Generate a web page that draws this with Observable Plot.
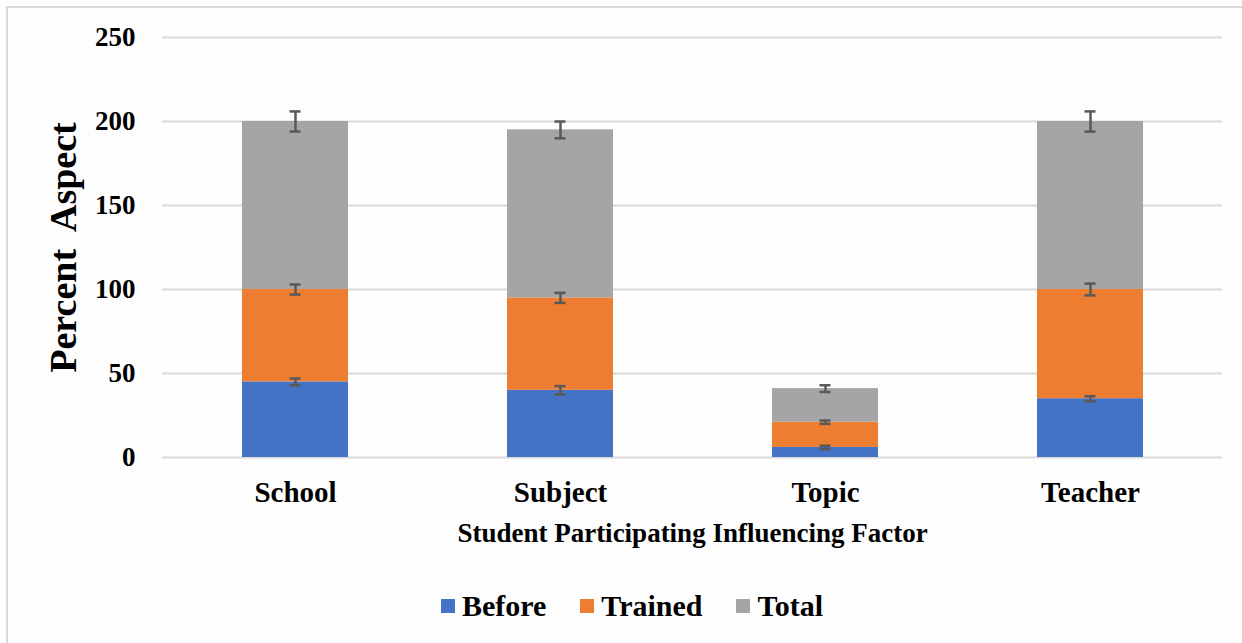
<!DOCTYPE html>
<html>
<head>
<meta charset="utf-8">
<script src="https://cdn.jsdelivr.net/npm/d3@7"></script>
<script src="https://cdn.jsdelivr.net/npm/@observablehq/plot@0.6"></script>
<style>
  html, body { margin: 0; padding: 0; background: #ffffff; }
  #wrap { position: relative; width: 1242px; height: 643px; overflow: hidden; background: #fdfdfd; font-family: "Liberation Serif", "Times New Roman", serif; }
  #frame { position: absolute; left: 6px; top: 6px; width: 1300px; height: 700px; border-left: 2px solid #d9d9d9; border-top: 2px solid #d9d9d9; }
  #chart { position: absolute; left: 0; top: 0; }
  #chart svg { font-family: "Liberation Serif", "Times New Roman", serif; font-weight: bold; color: #000; background: transparent; }
  g[aria-label="y-axis label"] text { font-size: 38px; white-space: pre; }
  g[aria-label="x-axis label"] text { font-size: 27px; }
  g[aria-label="x-axis tick label"] text { font-size: 29px; }
  #legend { position: absolute; top: 589px; left: 0; width: 1242px; display: flex; justify-content: center; align-items: center; gap: 34px; font-size: 30px; font-weight: bold; color: #000; padding-left: 22px; box-sizing: border-box; }
  .item { display: flex; align-items: center; gap: 7px; }
  .sw { width: 14px; height: 14px; display: inline-block; }
</style>
</head>
<body>
<div id="wrap">
  <div id="frame"></div>
  <div id="chart"></div>
  <div id="legend"></div>
</div>
<script>
// ---- data ----
const categories = ["School", "Subject", "Topic", "Teacher"];
const seriesNames = ["Before", "Trained", "Total"];
const before  = [45, 40, 6, 35];
const trained = [55, 55, 15, 65];
const total   = [100, 100, 20, 100];
const errBefore  = [2, 2.5, 1, 1.5];
const errTrained = [3, 3, 1, 3.5];
const errTotal   = [6, 5, 2, 6];
const yTicks = [0, 50, 100, 150, 200, 250];
const colors = ["#4472c4", "#ed7d31", "#a5a5a5"];

const seriesValues = [before, trained, total];
const seriesErrors = [errBefore, errTrained, errTotal];

const rows = [];
const errs = [];
categories.forEach((c, i) => {
  let cum = 0;
  seriesNames.forEach((s, k) => {
    const v = seriesValues[k][i];
    rows.push({cat: c, series: s, value: v});
    cum += v;
    errs.push({cat: c, series: s, top: cum, lo: cum - seriesErrors[k][i], hi: cum + seriesErrors[k][i]});
  });
});

const capInset = 47.5;

const chart = Plot.plot({
  width: 1242,
  height: 560,
  marginTop: 37,
  marginBottom: 103,
  marginLeft: 162,
  marginRight: 20,
  style: {background: "transparent"},
  x: {domain: categories, paddingInner: 0.6, paddingOuter: 0.3, label: null},
  y: {domain: [0, 250], ticks: yTicks, label: null},
  color: {domain: seriesNames, range: colors},
  marks: [
    Plot.gridY(yTicks, {stroke: "#d9d9d9", strokeOpacity: 1, strokeWidth: 2}),
    Plot.barY(rows, {x: "cat", y: "value", fill: "series", order: seriesNames}),
    Plot.ruleX(errs, {x: "cat", y1: "lo", y2: "hi", stroke: "#595959", strokeWidth: 2.5}),
    Plot.tickY(errs, {x: "cat", y: "lo", stroke: "#595959", strokeWidth: 2.5, insetLeft: capInset, insetRight: capInset}),
    Plot.tickY(errs, {x: "cat", y: "hi", stroke: "#595959", strokeWidth: 2.5, insetLeft: capInset, insetRight: capInset}),
    Plot.axisY(yTicks, {tickSize: 0, tickPadding: 27, fontSize: 27, label: "Percent  Aspect", labelAnchor: "center", labelArrow: "none", labelOffset: 113}),
    Plot.axisX({tickSize: 0, tickPadding: 24, fontSize: 29, label: "Student Participating Influencing Factor", labelAnchor: "center", labelArrow: "none", labelOffset: 84})
  ]
});
document.getElementById("chart").appendChild(chart);

const legend = document.getElementById("legend");
seriesNames.forEach((s, k) => {
  const item = document.createElement("div");
  item.className = "item";
  const sw = document.createElement("span");
  sw.className = "sw";
  sw.style.background = colors[k];
  const t = document.createElement("span");
  t.textContent = s;
  item.appendChild(sw);
  item.appendChild(t);
  legend.appendChild(item);
});
</script>
</body>
</html>
